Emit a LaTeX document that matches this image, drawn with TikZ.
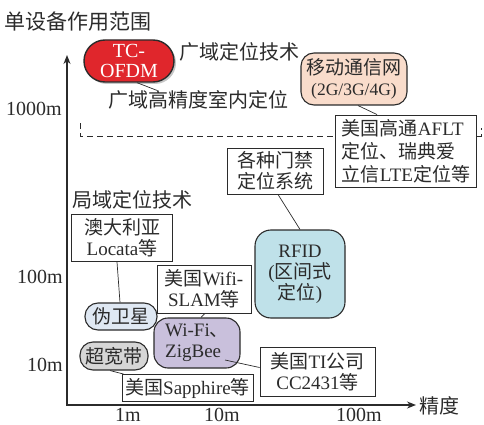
\documentclass[tikz,border=0pt]{standalone}
\usepackage{fontspec}
\setmainfont{Liberation Serif}
\newfontfamily\zh{Noto Sans CJK SC}
\usetikzlibrary{arrows.meta,shadows,calc,backgrounds}
\definecolor{tcred}{HTML}{E0262C}
\definecolor{peach}{HTML}{F9DCCB}
\definecolor{rfidblue}{HTML}{BFE1E9}
\definecolor{pseudoblue}{HTML}{DFE8F3}
\definecolor{uwbgray}{HTML}{D6D6D6}
\definecolor{wifipurple}{HTML}{C9C0DC}
\definecolor{ink}{HTML}{2B2B2B}
\tikzset{
  lbl/.style={inner sep=0pt, text=ink, font=\fontsize{20}{22}\selectfont},
  sqbox/.style={draw=ink, line width=0.9pt, fill=white, inner sep=1pt, align=center, text=ink,
    font=\fontsize{19}{21}\selectfont},
  rbox/.style={draw=ink, line width=1.1pt, inner sep=1pt, align=center, text=ink,
    font=\fontsize{19}{21}\selectfont},
  conn/.style={draw=ink, line width=0.7pt},
  axisline/.style={draw=ink, line width=1.3pt},
  dashline/.style={draw=ink, line width=0.8pt, dash pattern=on 6pt off 4pt},
}
\begin{document}
\begin{tikzpicture}[x=1pt,y=-1pt]
\useasboundingbox (0,0) rectangle (484,425);

% title and axes
\node[lbl, anchor=west, font=\fontsize{21}{23}\selectfont] (title) at (4,22) {\zh 单设备作用范围};
\coordinate (O) at (67,405);
\coordinate (ytip) at (67,55);
\coordinate (xtip) at (416,405);
\draw[axisline, {Stealth[length=9pt,width=7pt]}-{Stealth[length=9pt,width=7pt]}] (ytip) -- (O) -- (xtip);
\node[lbl, anchor=west] (prec) at (419,406) {\zh 精度};

\node[lbl, anchor=east] (t1000) at (62,109) {1000m};
\node[lbl, anchor=east] (t100) at (63,277) {100m};
\node[lbl, anchor=east] (t10) at (63,365) {10m};
\node[lbl] (x1) at (128,414.5) {1m};
\node[lbl] (x10) at (222,414.5) {10m};
\node[lbl] (x100) at (359,414.5) {100m};

% dashed boundary
\coordinate (d1) at (80,123);
\coordinate (d2) at (80,136);
\coordinate (d3) at (481,136);
\coordinate (d4) at (481,128);
\draw[dashline] (d1) -- (d2) -- (d3) -- (d4);

% wide-area
\node[draw=ink, line width=1.4pt, fill=tcred, text=white, rounded corners=21pt,
  minimum width=90, minimum height=42, inner sep=0pt, align=center,
  font=\fontsize{20}{20}\selectfont,
  drop shadow={opacity=0.45, shadow xshift=2pt, shadow yshift=-2pt}] (tc) at (129,61) {TC-\\OFDM};
\node[lbl, anchor=west] (wide1) at (179,52) {\zh 广域定位技术};
\node[lbl, anchor=west] (wide2) at (108,100) {\zh 广域高精度室内定位};
\draw[conn] ($(tc.south)+(8,0)$) -- ($(wide2.north west)+(49,0)$);

\node[rbox, fill=peach, minimum width=106, minimum height=52, rounded corners=13pt] (mob) at (354,79)
  {{\zh 移动通信网}\\{\fontsize{17.5}{21}\selectfont (2G/3G/4G)}};
\node[sqbox, align=left, minimum width=141, minimum height=72, font=\fontsize{19}{23}\selectfont] (aflt) at (406,151)
  {{\zh 美国高通}AFLT\\{\zh 定位、瑞典爱}\\{\zh 立信}LTE{\zh 定位等}};
\draw[conn] ($(mob.south)+(4,0)$) -- ($(aflt.north)+(-29,0)$);

\node[sqbox, minimum width=96, minimum height=46] (gate) at (275,171) {{\zh 各种门禁}\\{\zh 定位系统}};
\node[rbox, fill=rfidblue, minimum width=90, minimum height=88, rounded corners=16pt] (rfid) at (300,274)
  {RFID\\({\zh 区间式}\\{\zh 定位})};
\draw[conn] ($(gate.south)+(3,0)$) -- (rfid.north);

% local-area
\node[lbl, anchor=west] (local) at (72,200) {\zh 局域定位技术};
\node[sqbox, minimum width=101, minimum height=47] (locata) at (122,238) {{\zh 澳大利亚}\\Locata{\zh 等}};
\node[rbox, fill=pseudoblue, minimum width=72, minimum height=27, rounded corners=13pt] (pseudo) at (121,316.5) {\zh 伪卫星};
\draw[conn] ($(locata.south)+(-5,0)$) -- ($(pseudo.north)+(-1,0)$);

\node[rbox, fill=uwbgray, minimum width=68, minimum height=28, rounded corners=13pt] (uwb) at (114,356) {\zh 超宽带};
\node[sqbox, minimum width=131, minimum height=27] (sapph) at (187.5,388) {{\zh 美国}Sapphire{\zh 等}};
\draw[conn] ($(uwb.south)+(-4,0)$) -- ($(sapph.north west)+(2,0)$);

\node[sqbox, minimum width=94, minimum height=48] (slam) at (204,289) {{\zh 美国}Wifi-\\SLAM{\zh 等}};
\node[rbox, fill=wifipurple, minimum width=86, minimum height=50, rounded corners=14pt, align=left] (wifi) at (197,343)
  {Wi-Fi{\zh 、}\\ZigBee};
\draw[conn] ($(slam.south)+(1,0)$) -- ($(wifi.north)+(4,0)$);

\node[sqbox, minimum width=115, minimum height=49] (ti) at (317.5,372) {{\zh 美国}TI{\zh 公司}\\CC2431{\zh 等}};
\draw[conn] ($(wifi.center)+(28,17)$) -- ($(ti.west)+(0,-4.5)$);
\end{tikzpicture}
\end{document}
